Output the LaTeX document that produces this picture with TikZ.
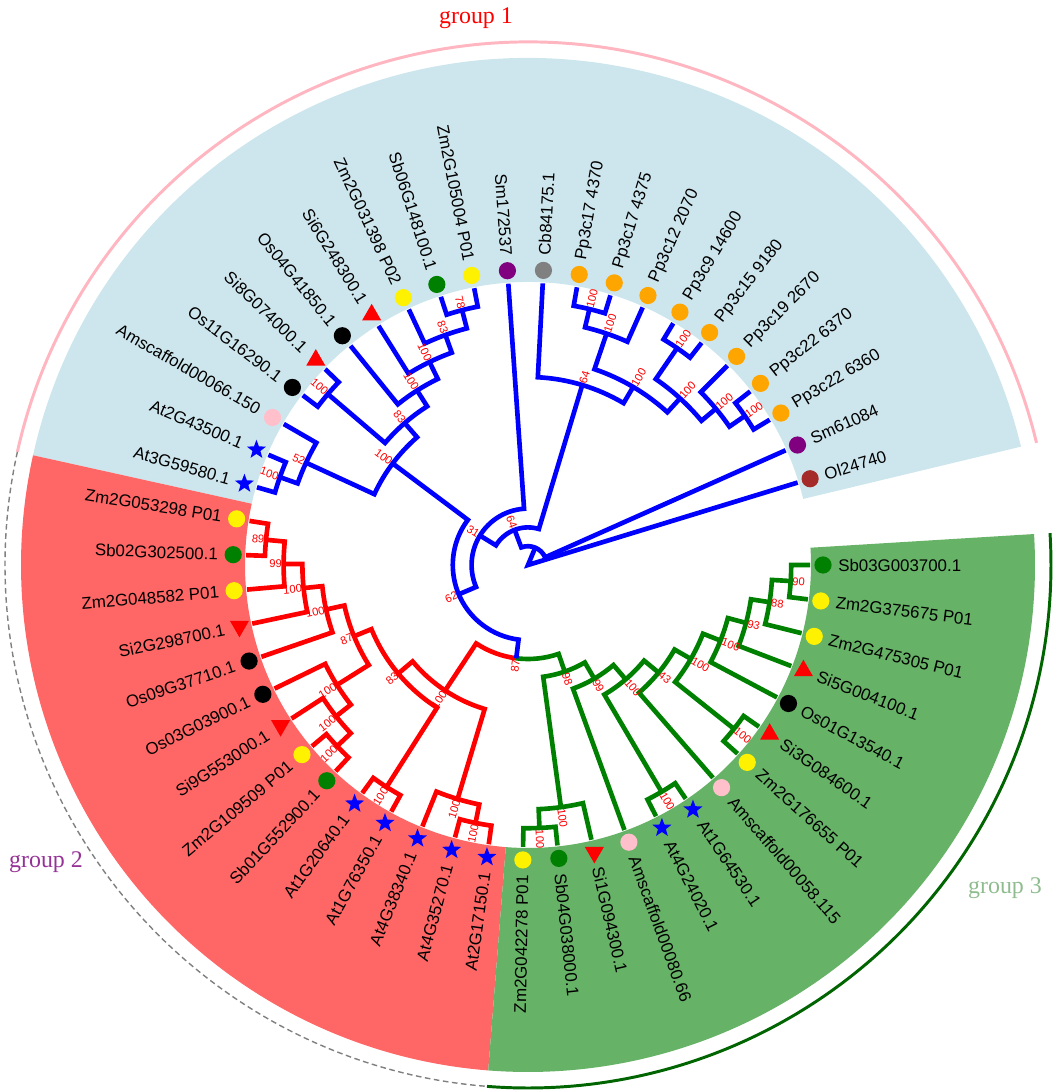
\documentclass[tikz,border=0pt]{standalone}
\usepackage{fontspec}
\setmainfont{Liberation Sans}
\newfontfamily\grpfont{Liberation Serif}
\usetikzlibrary{shapes.geometric}

\definecolor{bandblue}{RGB}{205,230,237}
\definecolor{bandred}{RGB}{255,102,102}
\definecolor{bandgreen}{RGB}{102,178,102}
\definecolor{treegreen}{RGB}{0,128,0}
\definecolor{grponecol}{RGB}{255,182,193}
\definecolor{grpthreecol}{RGB}{0,100,0}
\definecolor{grptwotxt}{RGB}{150,50,150}
\definecolor{grpthreetxt}{RGB}{143,188,143}
\definecolor{mkorange}{RGB}{255,165,0}
\definecolor{mkpink}{RGB}{255,192,203}
\definecolor{mkbrown}{RGB}{165,42,42}
\definecolor{mkpurple}{RGB}{128,0,128}
\definecolor{mkgreen}{RGB}{0,128,0}

% clade: style, radius, first child angle, its radius, last child angle, its radius
\newcommand{\clade}[6]{\draw[#1] (#3:#4) -- (#3:#2) arc[start angle=#3, end angle=#5, radius=#2] -- (#5:#6);}
% leaves on the right and on the left half
\newcommand{\leafr}[4]{\node[#3] (#1) at (#2:295) {};
  \node[leaflab, anchor=west, rotate=#2] (#1t) at (#2:310) {#4};}
\newcommand{\leafl}[4]{\node[#3] (#1) at (#2:295) {};
  \node[leaflab, anchor=east, rotate=#2-180] (#1t) at (#2:310) {#4};}
% bootstrap values
\newcommand{\bsr}[4]{\node[bs, anchor=west, rotate=#2] (#1) at (#2:#3) {#4};}
\newcommand{\bsl}[4]{\node[bs, anchor=east, rotate=#2-180] (#1) at (#2:#3) {#4};}

\begin{document}
\begin{tikzpicture}[x=0.025cm, y=0.025cm, line join=miter,
    bb/.style={blue, line width=3.3pt},
    rb/.style={red, line width=3.3pt},
    gb/.style={treegreen, line width=3.3pt},
    leaflab/.style={font=\fontsize{12}{14}\selectfont, inner sep=0pt},
    bs/.style={font=\fontsize{8}{9}\selectfont, text=red, inner sep=1pt},
    dot/.style={circle, inner sep=0pt, minimum size=0.43cm},
    ydot/.style={dot, fill=yellow},
    gdot/.style={dot, fill=mkgreen},
    kdot/.style={dot, fill=black},
    pdot/.style={dot, fill=mkpink},
    vdot/.style={dot, fill=mkpurple},
    adot/.style={dot, fill=gray},
    odot/.style={dot, fill=mkorange},
    bdot/.style={dot, fill=mkbrown},
    astar/.style={star, star points=5, star point ratio=2.4, inner sep=0pt, minimum size=0.5cm, fill=blue},
    tup/.style={regular polygon, regular polygon sides=3, inner sep=0pt, minimum size=0.55cm, fill=red},
    tdn/.style={tup, shape border rotate=180},
    grplab/.style={font=\grpfont\fontsize{17}{20}\selectfont}]

\useasboundingbox (-528,-525) rectangle (531,565);

% coloured bands
\fill[bandblue] (13.5:283) arc[start angle=13.5, end angle=167.5, radius=283] -- (167.5:507) arc[start angle=167.5, end angle=13.5, radius=507] -- cycle;
\fill[bandred] (167.5:283) arc[start angle=167.5, end angle=265.5, radius=283] -- (265.5:507) arc[start angle=265.5, end angle=167.5, radius=507] -- cycle;
\fill[bandgreen] (265.5:283) arc[start angle=265.5, end angle=363.5, radius=283] -- (363.5:507) arc[start angle=363.5, end angle=265.5, radius=507] -- cycle;

% group arcs
\draw[grponecol, line width=2.1pt] (13.5:523) arc[start angle=13.5, end angle=167.5, radius=523];
\draw[gray, line width=1pt, dash pattern=on 4pt off 2.5pt] (167.5:523) arc[start angle=167.5, end angle=265.5, radius=523];
\draw[grpthreecol, line width=2.1pt] (265.5:523) arc[start angle=265.5, end angle=363.5, radius=523];

\node[grplab, text=red] (grp1) at (-52,547) {group 1};
\node[grplab, text=grptwotxt] (grp2) at (-482,-297) {group 2};
\node[grplab, text=grpthreetxt] (grp3) at (477,-323) {group 3};

% moss clade
\clade{bb}{263.2}{73}{282}{80}{282}
\clade{bb}{244.4}{66}{282}{76.5}{263.2}
\clade{bb}{263.2}{52}{282}{59}{282}
\clade{bb}{263.2}{31}{282}{38}{282}
\clade{bb}{244.4}{34.5}{263.2}{45}{282}
\clade{bb}{225.6}{39.75}{244.4}{55.5}{263.2}
\clade{bb}{206.8}{47.625}{225.6}{71.25}{244.4}
\clade{bb}{188}{59.4375}{206.8}{87}{282}

% group 1, upper left
\clade{bb}{263.2}{101}{282}{108}{282}
\clade{bb}{244.4}{104.5}{263.2}{115}{282}
\clade{bb}{225.6}{109.75}{244.4}{122}{282}
\clade{bb}{206.8}{115.875}{225.6}{129}{282}
\clade{bb}{263.2}{136}{282}{143}{282}
\clade{bb}{188}{122.4375}{206.8}{139.5}{263.2}
\clade{bb}{263.2}{157}{282}{164}{282}
\clade{bb}{244.4}{150}{282}{160.5}{263.2}
\clade{bb}{169.2}{130.97}{188}{155.25}{244.4}

% group 2
\clade{rb}{263.2}{171}{282}{178}{282}
\clade{rb}{244.4}{174.5}{263.2}{185}{282}
\clade{rb}{225.6}{179.75}{244.4}{192}{282}
\clade{rb}{206.8}{185.875}{225.6}{199}{282}
\clade{rb}{263.2}{220}{282}{227}{282}
\clade{rb}{244.4}{213}{282}{223.5}{263.2}
\clade{rb}{225.6}{206}{282}{218.25}{244.4}
\clade{rb}{188}{192.4375}{206.8}{212.125}{225.6}
\clade{rb}{263.2}{234}{282}{241}{282}
\clade{rb}{169.2}{202.28}{188}{237.5}{263.2}
\clade{rb}{263.2}{255}{282}{262}{282}
\clade{rb}{244.4}{248}{282}{258.5}{263.2}
\clade{rb}{150.4}{219.89}{169.2}{253.25}{244.4}

% group 3
\clade{gb}{263.2}{269}{282}{276}{282}
\clade{gb}{244.4}{272.5}{263.2}{283}{282}
\clade{gb}{263.2}{353}{282}{360}{282}
\clade{gb}{244.4}{346}{282}{356.5}{263.2}
\clade{gb}{225.6}{339}{282}{351.25}{244.4}
\clade{gb}{206.8}{332}{282}{345.125}{225.6}
\clade{gb}{263.2}{318}{282}{325}{282}
\clade{gb}{188}{321.5}{263.2}{338.5625}{206.8}
\clade{gb}{169.2}{311}{282}{330.03}{188}
\clade{gb}{263.2}{297}{282}{304}{282}
\clade{gb}{150.4}{300.5}{263.2}{320.52}{169.2}
\clade{gb}{131.6}{290}{282}{310.51}{150.4}
\clade{gb}{112.8}{277.75}{244.4}{300.25}{131.6}

% near the root
\draw[rb] (236.57:150.4) -- (236.57:94) arc[start angle=236.57, end angle=262.8, radius=94];
\draw[gb] (262.8:94) arc[start angle=262.8, end angle=289, radius=94] -- (289:112.8);
\clade{bb}{75.2}{143.11}{169.2}{262.8}{94}
\clade{bb}{56.4}{94}{282}{202.95}{75.2}
\clade{bb}{37.6}{73.22}{188}{148.5}{56.4}
\clade{bb}{18.8}{24}{282}{110.86}{37.6}
\draw[bb] (17:282) -- (0,0) -- (67.43:18.8);

% bootstrap values
\bsr{p1}{76.5}{263.2}{100}
\bsr{p2}{71.25}{244.4}{100}
\bsr{p3}{55.5}{263.2}{100}
\bsr{p4}{34.5}{263.2}{100}
\bsr{p5}{39.75}{244.4}{100}
\bsr{p6}{47.625}{225.6}{100}
\bsr{p7}{59.4375}{206.8}{100}
\bsr{p8}{73.22}{188}{64}
\bsl{b1}{104.5}{263.2}{78}
\bsl{b2}{109.75}{244.4}{83}
\bsl{b3}{115.875}{225.6}{100}
\bsl{b4}{122.4375}{206.8}{100}
\bsl{b5}{139.5}{263.2}{100}
\bsl{b6}{130.97}{188}{83}
\bsl{b7}{160.5}{263.2}{100}
\bsl{b8}{155.25}{244.4}{52}
\bsl{b9}{143.11}{169.2}{100}
\bsl{r1}{174.5}{263.2}{89}
\bsl{r2}{179.75}{244.4}{99}
\bsl{r3}{185.875}{225.6}{100}
\bsl{r4}{192.4375}{206.8}{100}
\bsl{r5}{223.5}{263.2}{100}
\bsl{r6}{218.25}{244.4}{100}
\bsl{r7}{212.125}{225.6}{100}
\bsl{r8}{202.28}{188}{87}
\bsl{r9}{237.5}{263.2}{100}
\bsl{r10}{219.89}{169.2}{83}
\bsl{r11}{258.5}{263.2}{100}
\bsl{r12}{253.25}{244.4}{100}
\bsl{r13}{236.57}{150.4}{100}
\bsr{g1}{272.5}{263.2}{100}
\bsr{g2}{277.75}{244.4}{100}
\bsr{g3}{356.5}{263.2}{90}
\bsr{g4}{351.25}{244.4}{88}
\bsr{g5}{345.125}{225.6}{93}
\bsr{g6}{338.5625}{206.8}{100}
\bsr{g7}{321.5}{263.2}{100}
\bsr{g8}{330.03}{188}{100}
\bsr{g9}{320.52}{169.2}{43}
\bsr{g10}{300.5}{263.2}{100}
\bsr{g11}{310.51}{150.4}{100}
\bsr{g12}{300.25}{131.6}{99}
\bsr{g13}{289}{112.8}{98}
\bsl{n87}{262.8}{94}{87}
\bsl{n62}{202.95}{75.2}{62}
\bsl{n31}{148.5}{56.4}{31}
\bsl{n64}{110.86}{37.6}{64}

% leaves
\leafr{lf1}{17}{bdot}{Ol24740}
\leafr{lf2}{24}{vdot}{Sm61084}
\leafr{lf3}{31}{odot}{Pp3c22 6360}
\leafr{lf4}{38}{odot}{Pp3c22 6370}
\leafr{lf5}{45}{odot}{Pp3c19 2670}
\leafr{lf6}{52}{odot}{Pp3c15 9180}
\leafr{lf7}{59}{odot}{Pp3c9 14600}
\leafr{lf8}{66}{odot}{Pp3c12 2070}
\leafr{lf9}{73}{odot}{Pp3c17 4375}
\leafr{lf10}{80}{odot}{Pp3c17 4370}
\leafr{lf11}{87}{adot}{Cb84175.1}
\leafl{lf12}{94}{vdot}{Sm172537}
\leafl{lf13}{101}{ydot}{Zm2G105004 P01}
\leafl{lf14}{108}{gdot}{Sb06G148100.1}
\leafl{lf15}{115}{ydot}{Zm2G031398 P02}
\leafl{lf16}{122}{tup}{Si6G248300.1}
\leafl{lf17}{129}{kdot}{Os04G41850.1}
\leafl{lf18}{136}{tup}{Si8G074000.1}
\leafl{lf19}{143}{kdot}{Os11G16290.1}
\leafl{lf20}{150}{pdot}{Amscaffold00066.150}
\leafl{lf21}{157}{astar}{At2G43500.1}
\leafl{lf22}{164}{astar}{At3G59580.1}
\leafl{lf23}{171}{ydot}{Zm2G053298 P01}
\leafl{lf24}{178}{gdot}{Sb02G302500.1}
\leafl{lf25}{185}{ydot}{Zm2G048582 P01}
\leafl{lf26}{192}{tdn}{Si2G298700.1}
\leafl{lf27}{199}{kdot}{Os09G37710.1}
\leafl{lf28}{206}{kdot}{Os03G03900.1}
\leafl{lf29}{213}{tdn}{Si9G553000.1}
\leafl{lf30}{220}{ydot}{Zm2G109509 P01}
\leafl{lf31}{227}{gdot}{Sb01G552900.1}
\leafl{lf32}{234}{astar}{At1G20640.1}
\leafl{lf33}{241}{astar}{At1G76350.1}
\leafl{lf34}{248}{astar}{At4G38340.1}
\leafl{lf35}{255}{astar}{At4G35270.1}
\leafl{lf36}{262}{astar}{At2G17150.1}
\leafl{lf37}{269}{ydot}{Zm2G042278 P01}
\leafr{lf38}{276}{gdot}{Sb04G038000.1}
\leafr{lf39}{283}{tdn}{Si1G094300.1}
\leafr{lf40}{290}{pdot}{Amscaffold00080.66}
\leafr{lf41}{297}{astar}{At4G24020.1}
\leafr{lf42}{304}{astar}{At1G64530.1}
\leafr{lf43}{311}{pdot}{Amscaffold00058.115}
\leafr{lf44}{318}{ydot}{Zm2G176655 P01}
\leafr{lf45}{325}{tup}{Si3G084600.1}
\leafr{lf46}{332}{kdot}{Os01G13540.1}
\leafr{lf47}{339}{tup}{Si5G004100.1}
\leafr{lf48}{346}{ydot}{Zm2G475305 P01}
\leafr{lf49}{353}{ydot}{Zm2G375675 P01}
\leafr{lf50}{360}{gdot}{Sb03G003700.1}

\end{tikzpicture}
\end{document}
